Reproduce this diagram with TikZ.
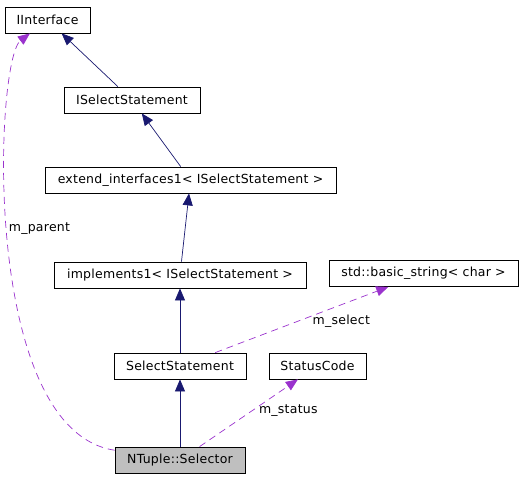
\documentclass[tikz,border=0pt]{standalone}
\usepackage{fontspec}
\setmainfont{DejaVu Sans}[LetterSpace=2]
\usepackage{tikz}
\usetikzlibrary{arrows.meta}

\definecolor{inherit}{RGB}{25,25,112}
\definecolor{member}{RGB}{154,50,205}

\begin{document}
\begin{tikzpicture}[x=1pt,y=1pt,->,line width=0.8pt]
\tikzstyle{every node}=[font=\fontsize{12.5}{14}\selectfont]
\tikzstyle{cls}=[draw=black,line width=0.8pt,fill=white,minimum height=26pt,inner sep=0pt]
\tikzstyle{base}=[draw=inherit,line width=0.7pt,-{Triangle[length=12pt,width=10pt,fill=inherit]}]
\tikzstyle{uses}=[draw=member,line width=0.7pt,dash pattern=on 7pt off 5pt,
  -{Triangle[length=12pt,width=10pt,fill=member]}]
\tikzstyle{lbl}=[anchor=west,inner sep=1pt,text=black]
\useasboundingbox (0,0) rectangle (524,480);
\node[cls,minimum width=85pt] (IInterface) at (47.5,460) {IInterface};
\node[cls,minimum width=136pt] (ISelect) at (132,380) {ISelectStatement};
\node[cls,minimum width=291pt] (Extend) at (190.5,300) {extend\_interfaces1< ISelectStatement >};
\node[cls,minimum width=252pt] (Impl) at (180,205) {implements1< ISelectStatement >};
\node[cls,minimum width=189pt] (BasicStr) at (423.5,206.5) {std::basic\_string< char >};
\node[cls,minimum width=132pt] (SelStmt) at (180,114) {SelectStatement};
\node[cls,minimum width=97pt] (Status) at (317.5,114) {StatusCode};
\node[cls,minimum width=130pt,fill=black!25] (Selector) at (180,20) {NTuple::Selector};
\path[base]
  (ISelect)edge(IInterface)
  (Extend)edge(ISelect)
  (Impl)edge(Extend)
  (SelStmt)edge(Impl)
  (Selector)edge(SelStmt);
\path[uses]
  (Selector)edge node[lbl,pos=0.54,xshift=5pt]{m\_status}(Status)
  (SelStmt)edge node[lbl,pos=0.48,xshift=13pt]{m\_select}(BasicStr);
\draw[uses]
  (Selector) .. controls (-20,50) and (-5,420) .. node[lbl,pos=0.526]{m\_parent}(IInterface);
\end{tikzpicture}
\end{document}
